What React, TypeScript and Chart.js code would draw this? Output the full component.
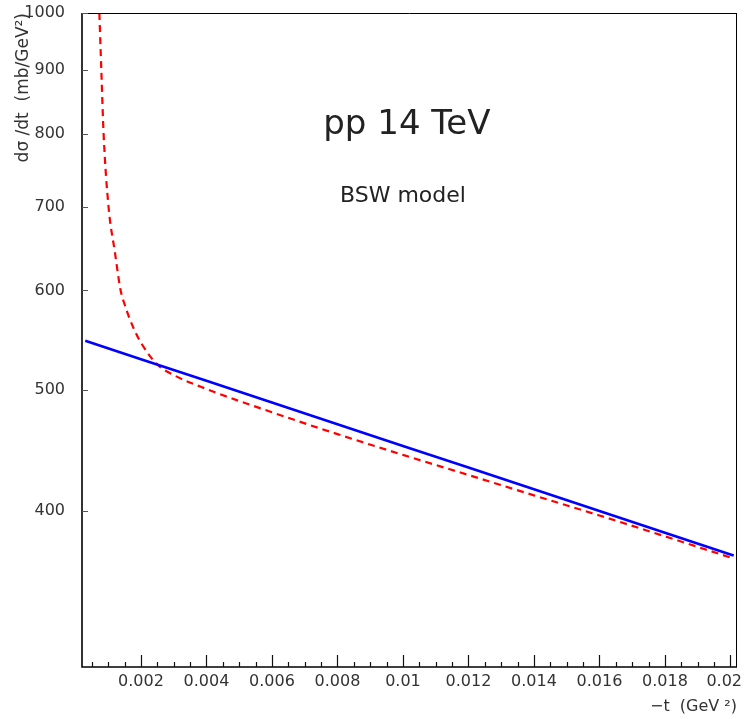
import React, { useEffect, useRef } from "react";
import { Chart, registerables } from "chart.js";

Chart.register(...registerables);

// Blue solid curve (BSW model, no Coulomb)
const blueT = [0.0003, 0.002, 0.004, 0.006, 0.008, 0.01, 0.012, 0.014, 0.016, 0.018, 0.02, 0.0201];
const blueV = [547, 528.7, 508.1, 488.2, 469.1, 450.7, 433.1, 416.1, 399.8, 384.1, 369.1, 368.4];

// Red dashed curve (with Coulomb interference)
const redT = [0.00073, 0.00079, 0.00086, 0.00101, 0.0012, 0.00138, 0.0015, 0.00165, 0.0018, 0.002, 0.0025, 0.003, 0.004, 0.006, 0.008, 0.01, 0.012, 0.014, 0.016, 0.018, 0.02];
const redV = [1000, 900, 800, 700, 645, 600, 585, 570, 558, 545, 523.5, 513.5, 500.5, 479.5, 460.6, 443.3, 427.2, 411.5, 396.5, 381.6, 367];

const xTickValues = [0.002, 0.004, 0.006, 0.008, 0.01, 0.012, 0.014, 0.016, 0.018, 0.02];
const xTickLabels = ["0.002", "0.004", "0.006", "0.008", "0.01", "0.012", "0.014", "0.016", "0.018", "0.02"];
const xMinorStep = 0.0005;
const yTickValues = [400, 500, 600, 700, 800, 900, 1000];

const xMin = 0.0002;
const xMax = 0.0202;
const yMin = 300;
const yMax = 1000;

const yTitle = "dσ /dt  (mb/GeV²)";
const xTitle = "−t  (GeV ²)";
const label1 = "pp 14 TeV";
const label2 = "BSW model";

const FONT = "'DejaVu Sans', 'Liberation Sans', sans-serif";
const TEXT_COLOR = "#333";

const framePlugin = {
  id: "framePlugin",
  afterDraw(chart: any) {
    const { ctx, chartArea } = chart;
    const xs = chart.scales.x;
    const ys = chart.scales.y;
    const { left, right, top, bottom } = chartArea;
    ctx.save();
    // frame
    ctx.strokeStyle = "#000";
    ctx.lineWidth = 1;
    ctx.beginPath();
    ctx.moveTo(left, top + 0.5);
    ctx.lineTo(right, top + 0.5);
    ctx.moveTo(right - 0.5, top);
    ctx.lineTo(right - 0.5, bottom);
    ctx.stroke();
    ctx.lineWidth = 1.6;
    ctx.beginPath();
    ctx.moveTo(left, top);
    ctx.lineTo(left, bottom);
    ctx.lineTo(right, bottom);
    ctx.stroke();

    // x ticks
    ctx.lineWidth = 1.2;
    ctx.strokeStyle = "#111";
    ctx.beginPath();
    for (let v = xMinorStep; v <= xMax + 1e-9; v += xMinorStep) {
      if (v < xMin) continue;
      const px = Math.round(xs.getPixelForValue(v)) + 0.5;
      const isMajor = xTickValues.some((m) => Math.abs(m - v) < 1e-7);
      const len = isMajor ? 12 : 5;
      ctx.moveTo(px, bottom);
      ctx.lineTo(px, bottom - len);
    }
    ctx.stroke();

    // y ticks
    ctx.strokeStyle = "#555";
    ctx.beginPath();
    yTickValues.forEach((v) => {
      const py = Math.round(ys.getPixelForValue(v)) + 0.5;
      ctx.moveTo(left, py);
      ctx.lineTo(left + 6, py);
    });
    ctx.stroke();

    // x labels
    ctx.fillStyle = TEXT_COLOR;
    ctx.font = `16px ${FONT}`;
    ctx.textBaseline = "middle";
    xTickValues.forEach((v, i) => {
      const px = xs.getPixelForValue(v);
      if (i === xTickValues.length - 1) {
        ctx.textAlign = "right";
        ctx.fillText(xTickLabels[i], chart.width - 7, bottom + 15);
      } else {
        ctx.textAlign = "center";
        ctx.fillText(xTickLabels[i], px, bottom + 15);
      }
    });

    // x title
    ctx.textAlign = "right";
    ctx.textBaseline = "alphabetic";
    ctx.font = `16px ${FONT}`;
    ctx.fillText(xTitle, right, bottom + 44);

    // y title
    ctx.save();
    ctx.translate(28, top);
    ctx.rotate(-Math.PI / 2);
    ctx.textAlign = "right";
    ctx.textBaseline = "alphabetic";
    ctx.font = `17px ${FONT}`;
    ctx.fillText(yTitle, 0, 0);
    ctx.restore();

    // annotations
    const w = right - left;
    const h = bottom - top;
    ctx.textAlign = "center";
    ctx.textBaseline = "alphabetic";
    ctx.font = `34px ${FONT}`;
    ctx.fillStyle = "#222";
    ctx.fillText(label1, left + 0.496 * w, top + 0.185 * h);
    ctx.font = `22px ${FONT}`;
    ctx.fillText(label2, left + 0.49 * w, top + 0.289 * h);
    ctx.restore();
  },
};

export default function App() {
  const canvasRef = useRef<HTMLCanvasElement | null>(null);

  useEffect(() => {
    const canvas = canvasRef.current;
    if (!canvas) return;
    const chart = new Chart(canvas, {
      type: "line",
      data: {
        datasets: [
          {
            label: "BSW",
            data: blueT.map((t, i) => ({ x: t, y: blueV[i] })),
            borderColor: "#0000ff",
            borderWidth: 2.6,
            pointRadius: 0,
            fill: false,
            tension: 0,
          },
          {
            label: "BSW + Coulomb",
            data: redT.map((t, i) => ({ x: t, y: redV[i] })),
            borderColor: "#ff0000",
            borderWidth: 2.2,
            borderDash: [7, 5],
            pointRadius: 0,
            fill: false,
            cubicInterpolationMode: "monotone",
          },
        ],
      },
      options: {
        animation: false,
        responsive: false,
        layout: { padding: { top: 13, right: 12, left: 0, bottom: 0 } },
        plugins: { legend: { display: false }, tooltip: { enabled: false } },
        scales: {
          x: {
            type: "linear",
            min: xMin,
            max: xMax,
            grid: { display: false, drawTicks: false },
            border: { display: false },
            ticks: { display: false },
            afterFit: (s: any) => {
              s.height = 52;
              s.paddingLeft = 0;
              s.paddingRight = 0;
            },
          },
          y: {
            type: "logarithmic",
            min: yMin,
            max: yMax,
            grid: { display: false, drawTicks: false },
            border: { display: false },
            ticks: {
              padding: 17,
              autoSkip: false,
              color: TEXT_COLOR,
              font: { family: FONT, size: 16 },
              callback: (v: any) => String(v),
            },
            afterBuildTicks: (s: any) => {
              s.ticks = yTickValues.map((v) => ({ value: v }));
            },
            afterFit: (s: any) => {
              s.width = 82;
              s.paddingTop = 0;
              s.paddingBottom = 0;
            },
          },
        },
      },
      plugins: [framePlugin],
    });
    return () => chart.destroy();
  }, []);

  return (
    <div style={{ position: "absolute", left: 0, top: 0, width: 749, height: 719, background: "#fff" }}>
      <canvas ref={canvasRef} width={749} height={719} style={{ display: "block" }} />
    </div>
  );
}
